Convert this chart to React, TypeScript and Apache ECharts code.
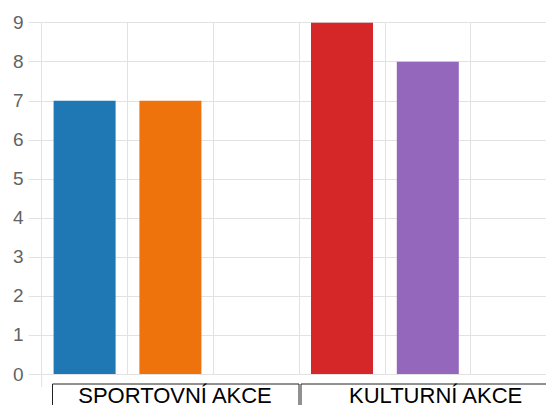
import React, { useEffect, useRef } from "react";
import * as echarts from "echarts";

// Data
const groups = ["SPORTOVNÍ AKCE", "KULTURNÍ AKCE"];
const slots = ["S1", "S2", "S3", "K1", "K2", "K3"];
const slotValues: (number | null)[] = [7, 7, null, 9, 8, null];
const slotColors = ["#1f77b4", "#ef730c", "#2ca02c", "#d62728", "#9467bd", "#8c564b"];
const yTicks = [0, 1, 2, 3, 4, 5, 6, 7, 8, 9];

export default function App() {
  const ref = useRef<HTMLDivElement>(null);
  useEffect(() => {
    if (!ref.current) return;
    const chart = echarts.init(ref.current, null, { renderer: "svg" });
    const gridColor = "#e2e2e2";
    chart.setOption({
      animation: false,
      grid: [
        { left: 41.7, width: 514.8, top: 22.7, bottom: 31, containLabel: false, outerBoundsMode: "none" },
        { left: 44.7, width: 521.2, top: 22.7, bottom: 31, containLabel: false, outerBoundsMode: "none" },
      ],
      xAxis: [
        {
          type: "category",
          gridIndex: 0,
          data: slots,
          boundaryGap: true,
          axisLine: { show: false },
          axisTick: { show: false },
          axisLabel: { show: false },
          splitLine: { show: true, lineStyle: { color: gridColor, width: 1 } },
        },
        {
          type: "category",
          gridIndex: 1,
          data: groups,
          boundaryGap: true,
          axisLine: { show: false },
          axisTick: { show: false },
          splitLine: { show: false },
          axisLabel: {
            show: true,
            interval: 0,
            margin: 12,
            color: "#000",
            fontSize: 22,
            lineHeight: 18,
            fontFamily: "Liberation Sans, Arial, sans-serif",
            verticalAlign: "top",
          },
        },
      ],
      yAxis: [
        {
          type: "value",
          gridIndex: 0,
          min: 0,
          max: yTicks[yTicks.length - 1],
          interval: 1,
          axisLine: { show: true, lineStyle: { color: gridColor } },
          axisTick: { show: true, length: 13, lineStyle: { color: gridColor } },
          splitLine: { show: true, lineStyle: { color: gridColor, width: 1 } },
          axisLabel: {
            margin: 18,
            color: "#636363",
            fontSize: 19,
            fontFamily: "Liberation Sans, Arial, sans-serif",
          },
        },
        { type: "value", gridIndex: 1, show: false, min: 0, max: 9 },
      ],
      series: [
        {
          type: "bar",
          xAxisIndex: 0,
          yAxisIndex: 0,
          barWidth: 62,
          data: slotValues.map((v, i) => ({
            value: v === null ? "-" : v,
            itemStyle: { color: slotColors[i] },
          })),
        },
      ],
      graphic: [
        {
          type: "line",
          shape: { x1: 41.7, y1: 374, x2: 41.7, y2: 387 },
          style: { stroke: gridColor, lineWidth: 1 },
        },
        {
          type: "rect",
          shape: { x: 52.5, y: 384, width: 246.5, height: 40 },
          style: { fill: "none", stroke: "#222", lineWidth: 1 },
        },
        {
          type: "rect",
          shape: { x: 301, y: 384, width: 280, height: 40 },
          style: { fill: "none", stroke: "#222", lineWidth: 1 },
        },
      ],
    });
    return () => chart.dispose();
  }, []);
  return (
    <div
      ref={ref}
      style={{ position: "absolute", left: 0, top: 0, width: 546, height: 405, background: "#fff" }}
    />
  );
}
